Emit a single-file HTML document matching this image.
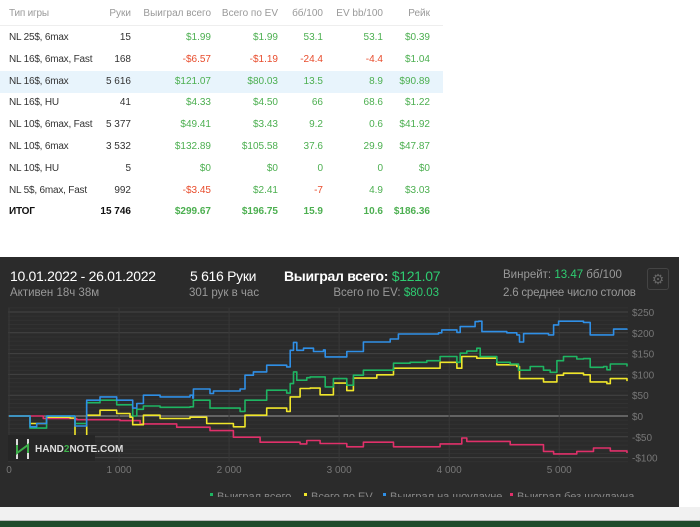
<!DOCTYPE html>
<html><head><meta charset="utf-8">
<style>
body{margin:0;width:700px;height:526px;background:#fff;position:relative;overflow:hidden;font-family:"Liberation Sans","Noto Sans CJK SC",sans-serif;}
.tbl{position:absolute;left:0;top:0;width:443px;height:220px;background:#fff;font-size:10px;color:#333}
.row{position:absolute;left:0;width:443px;height:22px}
.row span{position:absolute;top:5px;white-space:nowrap}
.g{color:#4caf50}.n{color:#e84c2c}
.hd span{color:#999}
#panel{position:absolute;left:0;top:257px;width:679px;height:250px;background:#2b2b2b;overflow:hidden}
#bottom{position:absolute;left:0;top:507px;width:700px;height:13px;background:#f1f1f1}
#gb{position:absolute;left:0;top:520px;width:700px;height:6px;background:#1f4a2a;border-top:1px solid #bbb}
</style></head><body>
<div class="tbl" id="tbl"></div>
<div id="panel">
 <div style="position:absolute;left:10px;top:11px;color:#fff;font-size:14px;letter-spacing:-0.3px">10.01.2022 - 26.01.2022</div>
 <div style="position:absolute;left:10px;top:30px;color:#999;font-size:11.5px">Активен 18ч 38м</div>
 <div style="position:absolute;left:190px;top:11px;color:#fff;font-size:14px;letter-spacing:-0.3px">5 616 Руки</div>
 <div style="position:absolute;left:189px;top:30px;color:#999;font-size:11.5px">301 рук в час</div>
 <div style="position:absolute;left:284px;top:11px;color:#fff;font-size:14px;letter-spacing:-0.3px;font-weight:bold">Выиграл всего: <span style="color:#2ecc71;font-weight:normal">$121.07</span></div>
 <div style="position:absolute;right:240px;top:30px;color:#999;font-size:11.5px">Всего по EV: <span style="color:#2ecc71">$80.03</span></div>
 <div style="position:absolute;left:503px;top:12px;color:#999;font-size:11.5px">Винрейт: <span style="color:#2ecc71">13.47</span> бб/100</div>
 <div style="position:absolute;left:503px;top:30px;color:#999;font-size:11.5px;letter-spacing:-0.2px">2.6 среднее число столов</div>
 <div style="position:absolute;left:647px;top:11px;width:20px;height:20px;border:1px solid #444;border-radius:3px;color:#666;font-size:14px;text-align:center;line-height:20px">⚙</div>
 <svg id="chart" width="679" height="250" style="position:absolute;left:0;top:0"></svg>
</div>
<div id="bottom"></div>
<div id="gb"></div>
<script>
const cols=[{x:9,a:'l'},{x:131,a:'r'},{x:211,a:'r'},{x:278,a:'r'},{x:323,a:'r'},{x:383,a:'r'},{x:430,a:'r'}];
const headers=['Тип игры','Руки','Выиграл всего','Всего по EV','бб/100','EV bb/100','Рейк'];
const rows=[
['NL 25$, 6max','15','$1.99','$1.99','53.1','53.1','$0.39'],
['NL 16$, 6max, Fast','168','-$6.57','-$1.19','-24.4','-4.4','$1.04'],
['NL 16$, 6max','5 616','$121.07','$80.03','13.5','8.9','$90.89'],
['NL 16$, HU','41','$4.33','$4.50','66','68.6','$1.22'],
['NL 10$, 6max, Fast','5 377','$49.41','$3.43','9.2','0.6','$41.92'],
['NL 10$, 6max','3 532','$132.89','$105.58','37.6','29.9','$47.87'],
['NL 10$, HU','5','$0','$0','0','0','$0'],
['NL 5$, 6max, Fast','992','-$3.45','$2.41','-7','4.9','$3.03'],
['ИТОГ','15 746','$299.67','$196.75','15.9','10.6','$186.36']];
const tbl=document.getElementById('tbl');
function mkRow(vals,top,cls,idx){
 const r=document.createElement('div');r.className='row '+cls;r.style.top=top+'px';
 
 
 if(idx===2)r.style.background='#e8f4fc';
 if(idx<0)r.style.borderBottom='1px solid #eee';
 vals.forEach((v,i)=>{const s=document.createElement('span');s.textContent=v;
  if(cols[i].a==='l')s.style.left=cols[i].x+'px';else s.style.right=(443-cols[i].x)+'px';
  if(i===0)s.style.letterSpacing='-0.2px';
  if(idx>=0&&i>=2)s.className=v.startsWith('-')?'n':'g';
  if(idx===8)s.style.fontWeight='bold';
  if(idx===8&&i<2)s.style.color='#111';
  r.appendChild(s);});
 tbl.appendChild(r);}
mkRow(headers,3,'hd',-1);
rows.forEach((r,i)=>mkRow(r,27+i*21.8,'',i));

const xTicks=[0,1000,2000,3000,4000,5000];
const xTickLabels=['0','1 000','2 000','3 000','4 000','5 000'];
const yTicks=[250,200,150,100,50,0,-50,-100];
const yTickLabels=['$250','$200','$150','$100','$50','$0','-$50','-$100'];
const blueH=[0,191,252,342,555,600,706,827,979,1100,1124,1161,1221,1373,1645,1670,1676,1827,1858,2100,2145,2221,2342,2433,2524,2555,2585,2615,2676,2767,2858,2873,3070,3221,3464,3539,3903,3933,4070,4100,4236,4267,4297,4524,4615,4639,4676,4903,4949,4994,5221,5282,5494,5616];
const blueV=[0,-26,-18,0,0,-24,38,46,38,38,19,30,50,46,50,43,65,54,60,65,98,106,122,122,118,158,177,158,163,155,159,142,155,178,185,197,200,207,201,215,227,228,203,200,195,178,198,195,219,228,225,195,209,210];
const greenH=[0,191,342,555,600,706,827,979,1100,1124,1161,1221,1373,1645,1676,1827,2100,2145,2342,2524,2555,2585,2615,2706,2736,2873,2948,3070,3130,3221,3494,3645,3797,3918,4070,4100,4160,4251,4282,4433,4555,4630,4736,4857,4918,4979,5039,5160,5221,5282,5403,5433,5464,5616];
const greenV=[0,-29,0,0,-18,32,38,27,27,0,16,24,21,22,38,19,11,38,62,55,78,106,86,92,94,70,90,74,98,110,127,129,133,143,129,151,156,163,143,129,125,110,119,110,105,133,143,137,138,117,119,111,125,119];
const yellowH=[0,191,342,555,600,706,827,979,1100,1124,1221,1373,1645,1797,2039,2145,2342,2524,2555,2645,2736,2827,2948,3070,3130,3342,3494,3645,3918,4070,4115,4251,4433,4615,4639,4857,4979,5039,5221,5282,5433,5464,5616];
const yellowV=[0,-18,-3,-5,-51,2,14,6,-3,-21,2,-6,-3,-18,-26,2,19,11,46,66,67,51,79,61,91,99,115,115,129,115,143,139,123,119,90,82,98,103,99,82,78,90,84];
const pinkH=[0,312,615,1009,1191,1524,1827,2039,2282,2645,2706,2827,3070,3221,3494,3918,4070,4115,4160,4555,4857,4949,5160,5312,5464,5616];
const pinkV=[0,-6,-9,-11,-19,-27,-35,-51,-63,-67,-59,-66,-74,-63,-74,-67,-67,-53,-61,-69,-85,-91,-85,-77,-84,-89];

const svg=document.getElementById('chart');const NS='http://www.w3.org/2000/svg';
const X0=9,X1=627,HMAX=5616,PY0=159,PPX=0.416;
const sx=h=>X0+(X1-X0)*h/HMAX;
const sy=v=>PY0-v*PPX;
function el(t,a){const e=document.createElementNS(NS,t);for(const k in a)e.setAttribute(k,a[k]);svg.appendChild(e);return e;}
for(let v=-110;v<=260;v+=10){
 const e=el('line',{x1:8,x2:628,y1:sy(v),y2:sy(v),stroke:v===0?'#9a9a9a':(v%50===0?'#444':'#323232'),'stroke-width':1});
 
 }
xTicks.forEach((t,i)=>{
 const l=el('line',{x1:sx(t),x2:sx(t),y1:sy(260),y2:sy(-110),stroke:'#383838'});
 
 
 const tx=el('text',{x:sx(t),y:216,fill:'#777','font-size':10,'text-anchor':'middle'});tx.textContent=xTickLabels[i];
 
 });
yTicks.forEach((t,i)=>{
 const tx=el('text',{x:632,y:sy(t)+4,fill:'#777','font-size':10});tx.textContent=yTickLabels[i];
 
 });
function series(H,V,c,name){
 let d='M'+sx(H[0]).toFixed(1)+' '+sy(V[0]).toFixed(1);
 for(let i=1;i<H.length;i++){d+=' H'+sx(H[i]).toFixed(1)+' V'+sy(V[i]).toFixed(1);}
 const e=el('path',{d:d,fill:'none',stroke:c,'stroke-width':1.6,'stroke-linejoin':'round'});
 
 }
series(pinkH,pinkV,'#e0306a','series-non-showdown');
series(yellowH,yellowV,'#f0e62a','series-ev');
series(greenH,greenV,'#1eb562','series-total');
series(blueH,blueV,'#2f8fe6','series-showdown');
const wb=el('rect',{x:8,y:178,width:87,height:26,fill:'#262626'});


el('path',{d:'M17 182v6M17 196v6M28 182v6M28 196v6',stroke:'#ddd','stroke-width':2,fill:'none'});
el('path',{d:'M17 188v8l11-8v8',stroke:'#3db04a','stroke-width':2,fill:'none'});
const wt=el('text',{x:35,y:195,fill:'#ddd','font-size':10,'font-weight':'bold'});
wt.innerHTML='HAND<tspan fill="#3db04a">2</tspan>NOTE.COM';


const leg=[['#1eb562','Выиграл всего',210],['#f0e62a','Всего по EV',304],['#2f8fe6','Выиграл на шоудауне',383],['#e0306a','Выиграл без шоудауна',510]];
const cp=document.createElementNS(NS,'clipPath');cp.id='lc';cp.innerHTML='<rect x="0" y="230" width="679" height="10"/>';svg.appendChild(cp);
leg.forEach(l=>{
 const g=el('g',{'clip-path':'url(#lc)'});
 
 
 g.innerHTML='<rect x="'+l[2]+'" y="236" width="3" height="3" fill="'+l[0]+'"/><text x="'+(l[2]+7)+'" y="243" fill="#888" font-size="11">'+l[1]+'</text>';});
</script>
</body></html>
